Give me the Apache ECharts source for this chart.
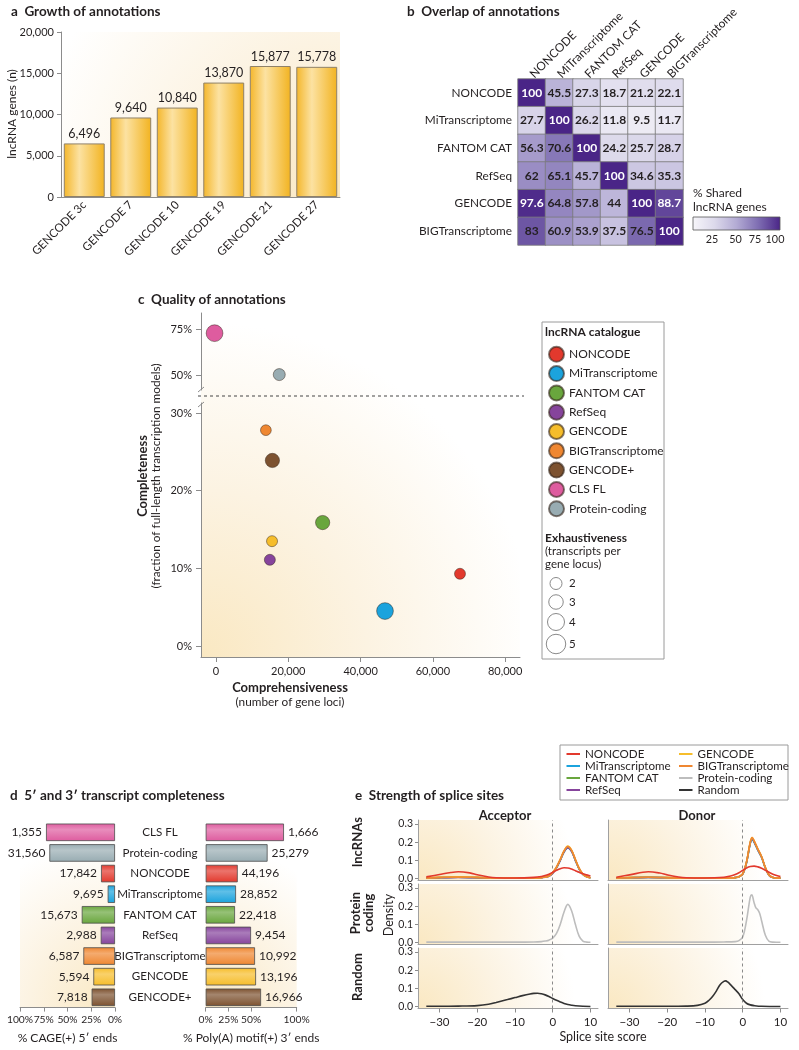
<!DOCTYPE html>
<html><head><meta charset="utf-8">
<script src="https://cdn.jsdelivr.net/npm/echarts@6/dist/echarts.min.js"></script>
<style>html,body{margin:0;padding:0;background:#fff}#c{width:799px;height:1050px}</style>
</head><body><div id="c"></div>
<script>
// ---------- DATA ----------
// a: growth of annotations
const growthCategories = ['GENCODE 3c','GENCODE 7','GENCODE 10','GENCODE 19','GENCODE 21','GENCODE 27'];
const growthValues = [6496, 9640, 10840, 13870, 15877, 15778];

// b: overlap of annotations (% shared lncRNA genes), rows x cols
const overlapNames = ['NONCODE','MiTranscriptome','FANTOM CAT','RefSeq','GENCODE','BIGTranscriptome'];
const overlapNONCODE = [100, 45.5, 27.3, 18.7, 21.2, 22.1];
const overlapMiT = [27.7, 100, 26.2, 11.8, 9.5, 11.7];
const overlapFANTOM = [56.3, 70.6, 100, 24.2, 25.7, 28.7];
const overlapRefSeq = [62, 65.1, 45.7, 100, 34.6, 35.3];
const overlapGENCODE = [97.6, 64.8, 57.8, 44, 100, 88.7];
const overlapBIG = [83, 60.9, 53.9, 37.5, 76.5, 100];
const overlapTicks = [25, 50, 75, 100];

// c: quality of annotations
const catalogueNames = ['NONCODE','MiTranscriptome','FANTOM CAT','RefSeq','GENCODE','BIGTranscriptome','GENCODE+','CLS FL','Protein-coding'];
const comprehensiveness = [67500, 46750, 29500, 14900, 15500, 13800, 15600, -400, 17500];
const completeness = [9.3, 4.5, 15.9, 11.1, 13.5, 27.8, 23.9, 73, 50.4];
const exhaustiveness = [1.6, 3.9, 2.9, 1.6, 1.6, 1.5, 2.9, 3.9, 2.0];
const exhaustivenessLegend = [2, 3, 4, 5];
const cXTicks = [0, 20000, 40000, 60000, 80000];
const cYTicksLower = [0, 10, 20, 30];
const cYTicksUpper = [50, 75];

// d: 5' and 3' completeness
const completenessCats = ['CLS FL','Protein-coding','NONCODE','MiTranscriptome','FANTOM CAT','RefSeq','BIGTranscriptome','GENCODE','GENCODE+'];
const cagePercent = [72.6, 69.1, 14.7, 7.7, 35.0, 15.0, 33.3, 22.8, 24.6];
const cageCounts = [1355, 31560, 17842, 9695, 15673, 2988, 6587, 5594, 7818];
const polyAPercent = [86.0, 68.0, 35.2, 33.3, 32.2, 49.8, 54.2, 55.3, 60.8];
const polyACounts = [1666, 25279, 44196, 28852, 22418, 9454, 10992, 13196, 16966];

// e: strength of splice sites (density curves)
const accLncX = [-33.5,-30,-25,-20,-15,-10,-5,-3,-2,-1,0,1,2,3,4,5,6,7,8,9,10];
const accMiT    = [0.002,0.005,0.007,0.005,0.002,0.002,0.003,0.005,0.008,0.013,0.030,0.058,0.100,0.145,0.168,0.150,0.100,0.052,0.022,0.009,0.004];
const accFANTOM = [0.002,0.005,0.007,0.005,0.002,0.002,0.003,0.005,0.008,0.014,0.031,0.060,0.102,0.148,0.172,0.152,0.102,0.054,0.023,0.010,0.004];
const accRefSeq = [0.002,0.004,0.006,0.004,0.002,0.002,0.003,0.004,0.007,0.012,0.028,0.058,0.100,0.147,0.170,0.150,0.100,0.052,0.022,0.009,0.004];
const accGENCODE= [0.003,0.006,0.009,0.006,0.002,0.002,0.003,0.005,0.008,0.014,0.032,0.062,0.105,0.152,0.178,0.156,0.104,0.055,0.024,0.010,0.004];
const accBIG    = [0.003,0.006,0.008,0.006,0.002,0.002,0.003,0.005,0.008,0.015,0.034,0.064,0.106,0.152,0.176,0.155,0.106,0.057,0.025,0.011,0.004];
const accNoncodeX = [-33.5,-30,-27,-25,-22,-20,-17,-15,-10,-5,-3,-2,-1,0,1,2,3,4,5,6,7,8,9,10];
const accNONCODE  = [0.009,0.022,0.033,0.037,0.031,0.021,0.008,0.004,0.003,0.006,0.011,0.016,0.024,0.034,0.045,0.054,0.059,0.058,0.052,0.043,0.034,0.026,0.020,0.014];
const donLncX = [-33.5,-30,-25,-20,-15,-10,-5,-3,-2,-1,0,1,2,2.5,3,4,5,6,7,8,9,10];
const donMiT    = [0.002,0.004,0.006,0.004,0.002,0.002,0.002,0.003,0.005,0.010,0.024,0.086,0.192,0.215,0.200,0.156,0.116,0.058,0.017,0.006,0.003,0.002];
const donFANTOM = [0.002,0.005,0.007,0.005,0.002,0.002,0.002,0.003,0.005,0.010,0.025,0.088,0.196,0.220,0.204,0.159,0.118,0.059,0.018,0.006,0.003,0.002];
const donRefSeq = [0.002,0.004,0.006,0.004,0.002,0.002,0.002,0.003,0.005,0.010,0.024,0.087,0.195,0.218,0.203,0.158,0.117,0.058,0.017,0.006,0.003,0.002];
const donGENCODE= [0.003,0.005,0.007,0.005,0.002,0.002,0.002,0.003,0.005,0.010,0.025,0.090,0.200,0.225,0.208,0.162,0.120,0.060,0.018,0.006,0.003,0.002];
const donBIG    = [0.003,0.005,0.007,0.005,0.002,0.002,0.002,0.003,0.005,0.011,0.026,0.091,0.201,0.226,0.209,0.163,0.121,0.061,0.019,0.006,0.003,0.002];
const donNoncodeX = [-33.5,-30,-25,-22,-20,-17,-15,-10,-5,-3,-2,-1,0,1,2,3,4,5,6,7,8,9,10];
const donNONCODE  = [0.007,0.020,0.037,0.030,0.020,0.008,0.004,0.003,0.007,0.015,0.022,0.032,0.045,0.058,0.066,0.068,0.064,0.056,0.045,0.034,0.024,0.016,0.011];
const accPcX = [-33.5,-20,-10,-5,-3,-2,-1,0,1,2,3,4,5,6,7,8,9,10];
const accPc  = [0.002,0.002,0.002,0.003,0.005,0.008,0.013,0.024,0.050,0.100,0.168,0.210,0.175,0.100,0.035,0.008,0.002,0.001];
const donPcX = [-33.5,-20,-10,-5,-2,-1,0,1,2,2.4,3,3.5,4,4.5,5,6,7,8,10];
const donPc  = [0.002,0.002,0.002,0.003,0.005,0.010,0.030,0.120,0.250,0.262,0.220,0.190,0.180,0.160,0.120,0.040,0.006,0.002,0.001];
const accRandX = [-33.5,-30,-25,-20,-17,-15,-12,-10,-8,-6,-5,-4,-3,-2,-1,0,1,2,3,4,5,6,8,10];
const accRand  = [0.001,0.001,0.002,0.005,0.012,0.022,0.038,0.049,0.060,0.069,0.072,0.073,0.070,0.064,0.055,0.044,0.034,0.025,0.017,0.011,0.007,0.004,0.001,0];
const donRandX = [-33.5,-20,-15,-12,-10,-9,-8,-7,-6,-5,-4.5,-4,-3,-2.3,-1,0,1,2,3,5,10];
const donRand  = [0.001,0.001,0.002,0.006,0.018,0.033,0.055,0.085,0.120,0.138,0.141,0.135,0.115,0.100,0.070,0.038,0.018,0.009,0.005,0.001,0];
const eXTicks = [-30, -20, -10, 0, 10];
const eYTicks = [0, 0.1, 0.2, 0.3];

// ---------- STYLE ----------
const FONT = 'Lato, "Open Sans", "DejaVu Sans", sans-serif';
const TXT = '#231f20';
const AX = '#8c8c8c';
const PALETTE = {
  'NONCODE':'#e2392d','MiTranscriptome':'#1ba3dd','FANTOM CAT':'#69a63d','RefSeq':'#86449c',
  'GENCODE':'#f6bd2b','BIGTranscriptome':'#ef8731','GENCODE+':'#7d5230','CLS FL':'#de5c9f',
  'Protein-coding':'#98acb2','Random':'#333333'
};
const PC_LINE = '#bdbdbd';
const HEAT = ['#f7f6fa','#dcd9eb','#b3abd4','#7e6db2','#4a2587'];
function mix(hex, t){
  const n = parseInt(hex.slice(1),16);
  let r=n>>16, g=(n>>8)&255, b=n&255;
  r=Math.round(r+(255-r)*t); g=Math.round(g+(255-g)*t); b=Math.round(b+(255-b)*t);
  return 'rgb('+r+','+g+','+b+')';
}
const sizeOf = e => 7 + 2.5*e;
const fmt = v => v.toLocaleString('en-US');
function T(text, x, y, o){
  o = o || {};
  return {type:'text', x:x, y:y, rotation:o.rot||0, z:50,
    style:{text:text, fill:o.fill||TXT, font:(o.bold?'bold ':'')+(o.size||12)+'px '+FONT,
      align:o.align||'left', verticalAlign:o.va||'middle'}};
}
function bg(x,y,w,h,cx,cy,r){
  return {type:'rect', z:-10, shape:{x:x,y:y,width:w,height:h}, silent:true,
    style:{fill:{type:'radial', x:cx, y:cy, r:r, global:false,
      colorStops:[{offset:0,color:'#fae8c2'},{offset:0.5,color:'#fcf3e2'},{offset:1,color:'#ffffff'}]}}};
}
const axLine = (color) => ({show:true, onZero:false, lineStyle:{color:color||AX}});

// ---------- GRIDS ----------
const grids = [
  {left:61, top:32, width:279, height:165},          // 0 a
  {left:518, top:79, width:165, height:166},         // 1 b
  {left:201, top:313, width:319, height:77},         // 2 c upper
  {left:201, top:403, width:319, height:254},        // 3 c lower
  {left:20, top:822, width:95, height:185.6},        // 4 d left
  {left:205.7, top:822, width:91, height:185.6}      // 5 d right
];
const eLeft = [418, 608], eTop = [820, 884, 948];
for (let r=0;r<3;r++) for (let c=0;c<2;c++) grids.push({left:eLeft[c], top:eTop[r], width:180, height:60.5});

const labelBase = {color:TXT, fontFamily:FONT, fontSize:11};
const xAxes = [], yAxes = [];
// a
xAxes.push({type:'category', gridIndex:0, data:growthCategories, axisTick:{show:false},
  axisLine:axLine(), axisLabel:Object.assign({rotate:45, margin:6, interval:0}, labelBase, {fontSize:11.5})});
yAxes.push({type:'value', gridIndex:0, min:0, max:20000, interval:5000, splitLine:{show:false},
  axisLine:axLine(), axisTick:{show:true, length:4, lineStyle:{color:AX}},
  axisLabel:Object.assign({formatter:fmt, margin:7}, labelBase)});
// b
xAxes.push({type:'category', gridIndex:1, position:'top', data:overlapNames, axisLine:{show:false}, axisTick:{show:false},
  axisLabel:Object.assign({rotate:-45, margin:3, interval:0, align:'left'}, labelBase, {fontSize:11.8})});
yAxes.push({type:'category', gridIndex:1, inverse:true, data:overlapNames, axisLine:{show:false}, axisTick:{show:false},
  axisLabel:Object.assign({margin:6}, labelBase, {fontSize:11.8})});
// c upper
xAxes.push({type:'value', gridIndex:2, min:-4150, max:84100, show:false});
yAxes.push({type:'value', gridIndex:2, min:42, max:84, splitLine:{show:false},
  axisLine:axLine(), axisTick:{show:true, length:5, customValues:cYTicksUpper, lineStyle:{color:AX}},
  axisLabel:Object.assign({customValues:cYTicksUpper, formatter:v=>v+'%', margin:9}, labelBase)});
// c lower
xAxes.push({type:'value', gridIndex:3, min:-4150, max:84100, splitLine:{show:false},
  axisLine:axLine(), axisTick:{show:true, length:5, customValues:cXTicks, lineStyle:{color:AX}},
  axisLabel:Object.assign({customValues:cXTicks, formatter:fmt, margin:9}, labelBase)});
yAxes.push({type:'value', gridIndex:3, min:-1.42, max:31.3, splitLine:{show:false},
  axisLine:axLine(), axisTick:{show:true, length:5, customValues:cYTicksLower, lineStyle:{color:AX}},
  axisLabel:Object.assign({customValues:cYTicksLower, formatter:v=>v+'%', margin:9}, labelBase)});
// d
const dTickLabel = Object.assign({formatter:v=>v+'%', margin:7, showMinLabel:true, showMaxLabel:true, hideOverlap:false}, labelBase, {fontSize:10.3});
xAxes.push({type:'value', gridIndex:4, min:0, max:100, interval:25, inverse:true, splitLine:{show:false},
  axisLine:axLine(), axisTick:{show:true, length:4, lineStyle:{color:AX}},
  axisLabel:dTickLabel,
  name:'% CAGE(+) 5\u2032 ends', nameLocation:'middle', nameGap:25, nameTextStyle:{color:TXT, fontFamily:FONT, fontSize:12}});
yAxes.push({type:'category', gridIndex:4, inverse:true, position:'right', data:completenessCats,
  axisLine:{show:false}, axisTick:{show:false}, axisLabel:Object.assign({align:'center', margin:45}, labelBase, {fontSize:11.6})});
xAxes.push({type:'value', gridIndex:5, min:0, max:100, interval:25, splitLine:{show:false},
  axisLine:axLine(), axisTick:{show:true, length:4, lineStyle:{color:AX}},
  axisLabel:dTickLabel,
  name:'% Poly(A) motif(+) 3\u2032 ends', nameLocation:'middle', nameGap:25, nameTextStyle:{color:TXT, fontFamily:FONT, fontSize:12}});
yAxes.push({type:'category', gridIndex:5, inverse:true, data:completenessCats,
  axisLine:{show:false}, axisTick:{show:false}, axisLabel:{show:false}});
// e
const minus = v => v<0 ? '\u2212'+Math.abs(v) : String(v);
for (let r=0;r<3;r++) for (let c=0;c<2;c++){
  const gi = 6 + r*2 + c;
  xAxes.push({type:'value', gridIndex:gi, min:-35.7, max:12, splitLine:{show:false},
    axisLine:axLine('#a0a0a0'),
    axisTick:{show:r===2, length:4, customValues:eXTicks, lineStyle:{color:AX}},
    axisLabel:Object.assign({show:r===2, customValues:eXTicks, formatter:minus, margin:8}, labelBase, {fontSize:11.5})});
  yAxes.push({type:'value', gridIndex:gi, min:-0.011, max:0.322, splitLine:{show:false},
    axisLine:axLine('#a0a0a0'),
    axisTick:{show:c===0, length:3, customValues:eYTicks, lineStyle:{color:AX}},
    axisLabel:Object.assign({show:c===0, customValues:eYTicks, formatter:v=>v.toFixed(1), margin:5}, labelBase, {fontSize:10.5})});
}

// ---------- SERIES ----------
const series = [];
// a bars
series.push({type:'bar', xAxisIndex:0, yAxisIndex:0, data:growthValues, barCategoryGap:'12%',
  itemStyle:{color:{type:'linear',x:0,y:0,x2:1,y2:0,colorStops:[{offset:0,color:'#f4b62a'},{offset:0.38,color:'#fce2a2'},{offset:1,color:'#f2b320'}]},
    borderColor:'#8f8169', borderWidth:1},
  label:{show:true, position:'top', distance:3, formatter:p=>fmt(p.value), color:TXT, fontFamily:FONT, fontSize:12.5}});
// b heatmap
const overlapRows = [overlapNONCODE, overlapMiT, overlapFANTOM, overlapRefSeq, overlapGENCODE, overlapBIG];
const heatData = [];
overlapRows.forEach((row,i)=>row.forEach((v,j)=>heatData.push([j,i,v])));
series.push({type:'heatmap', xAxisIndex:1, yAxisIndex:1, data:heatData,
  itemStyle:{borderColor:'#7a7a7a', borderWidth:0.8},
  label:{show:true, formatter:p=>(p.value[2]>=85?'{w|':'{d|')+p.value[2]+'}',
    rich:{w:{color:'#ffffff', fontWeight:'bold', fontSize:12, fontFamily:FONT}, d:{color:TXT, fontWeight:'bold', fontSize:12, fontFamily:FONT}}}});
// c scatter
catalogueNames.forEach((n,i)=>{
  const up = completeness[i] > 35;
  series.push({type:'scatter', name:n, xAxisIndex:up?2:3, yAxisIndex:up?2:3, z:5,
    data:[[comprehensiveness[i], completeness[i], exhaustiveness[i]]],
    symbolSize:v=>sizeOf(v[2]),
    itemStyle:{color:PALETTE[n], borderColor:'rgba(50,35,25,0.6)', borderWidth:0.8, opacity:1}});
});
// d bars
function barGrad(c){ return {type:'linear',x:0,y:0,x2:0,y2:1,colorStops:[{offset:0,color:c},{offset:0.35,color:mix(c,0.3)},{offset:1,color:c}]}; }
series.push({type:'bar', xAxisIndex:4, yAxisIndex:4, data:cagePercent, barWidth:17.5,
  itemStyle:{color:p=>barGrad(PALETTE[completenessCats[p.dataIndex]]), borderColor:'#4d4d4d', borderWidth:0.8},
  label:{show:true, position:'left', distance:4, formatter:p=>fmt(cageCounts[p.dataIndex]), color:TXT, fontFamily:FONT, fontSize:12}});
series.push({type:'bar', xAxisIndex:5, yAxisIndex:5, data:polyAPercent, barWidth:17.5,
  itemStyle:{color:p=>barGrad(PALETTE[completenessCats[p.dataIndex]]), borderColor:'#4d4d4d', borderWidth:0.8},
  label:{show:true, position:'right', distance:4, formatter:p=>fmt(polyACounts[p.dataIndex]), color:TXT, fontFamily:FONT, fontSize:12}});
// e lines
const dash = {silent:true, symbol:'none', label:{show:false}, lineStyle:{type:[3,3], color:'#8a8a8a', width:1}, data:[{xAxis:0}]};
function line(name, gi, xs, ys, color, z, mark){
  const s = {type:'line', name:name, xAxisIndex:gi, yAxisIndex:gi, data:xs.map((x,k)=>[x,ys[k]]),
    smooth:0.35, symbol:'none', showSymbol:false, silent:true, z:z,
    lineStyle:{color:color, width:1.6}, itemStyle:{color:color}};
  if (mark) s.markLine = dash;
  return s;
}
[[6, accLncX, [accMiT,accFANTOM,accRefSeq,accGENCODE,accBIG], accNoncodeX, accNONCODE],
 [7, donLncX, [donMiT,donFANTOM,donRefSeq,donGENCODE,donBIG], donNoncodeX, donNONCODE]].forEach(cfg=>{
  const [gi, xs, groups, nx, ny] = cfg;
  const names = ['MiTranscriptome','FANTOM CAT','RefSeq','GENCODE','BIGTranscriptome'];
  groups.forEach((ys,k)=>series.push(line(names[k], gi, xs, ys, PALETTE[names[k]], 3+k, k===0)));
  series.push(line('NONCODE', gi, nx, ny, PALETTE['NONCODE'], 9, false));
});
series.push(line('Protein-coding', 8, accPcX, accPc, PC_LINE, 3, true));
series.push(line('Protein-coding', 9, donPcX, donPc, PC_LINE, 3, true));
series.push(line('Random', 10, accRandX, accRand, '#333333', 3, true));
series.push(line('Random', 11, donRandX, donRand, '#333333', 3, true));

// ---------- GRAPHICS ----------
const g = [];
g.push(bg(61,32,279,165,1,1,1.9));
g.push(bg(201,313,319,344,0,1,1.05));
g.push(bg(20,822,95,186,1,1,1.8));
g.push(bg(205.7,822,91,186,0,1,1.8));
for (let r=0;r<3;r++) for (let c=0;c<2;c++) g.push(bg(eLeft[c], eTop[r], 180, 60.5, 0, 1, 2.6));
// titles
g.push(T('a  Growth of annotations', 11, 12, {bold:true, size:13.5}));
g.push(T('b  Overlap of annotations', 407, 12, {bold:true, size:13.5}));
g.push(T('c  Quality of annotations', 138, 300, {bold:true, size:13.5}));
g.push(T('d  5\u2032 and 3\u2032 transcript completeness', 10, 796, {bold:true, size:13.5}));
g.push(T('e  Strength of splice sites', 355, 796, {bold:true, size:13.5}));
// a y name
g.push(T('lncRNA genes (n)', 12, 114, {rot:Math.PI/2, align:'center', size:12}));
// b colour bar
g.push({type:'rect', z:20, shape:{x:693,y:217,width:87,height:13}, style:{stroke:'#555', lineWidth:0.8,
  fill:{type:'linear',x:0,y:0,x2:1,y2:0,colorStops:HEAT.map((c,k)=>({offset:k/(HEAT.length-1), color:c}))}}});
const barPos = [712, 735.5, 755, 775];
overlapTicks.forEach((t,k)=>g.push(T(String(t), barPos[k], 239.5, {align:'center', size:10.8})));
g.push(T('% Shared', 693, 193.5, {size:12}));
g.push(T('lncRNA genes', 693, 207, {size:12}));
// c decorations
g.push({type:'line', z:20, shape:{x1:198,y1:396,x2:524,y2:396}, style:{stroke:'#444', lineWidth:1, lineDash:[3,3]}});
g.push({type:'line', z:20, shape:{x1:198,y1:392,x2:204,y2:387}, style:{stroke:AX, lineWidth:1}});
g.push({type:'line', z:20, shape:{x1:198,y1:407,x2:204,y2:402}, style:{stroke:AX, lineWidth:1}});
g.push(T('Completeness', 143, 476, {rot:Math.PI/2, align:'center', bold:true, size:13}));
g.push(T('(fraction of full-length transcription models)', 156, 476, {rot:Math.PI/2, align:'center', size:11.8}));
g.push(T('Comprehensiveness', 290, 688, {align:'center', bold:true, size:13}));
g.push(T('(number of gene loci)', 290, 702, {align:'center', size:11.8}));
g.push({type:'rect', z:20, shape:{x:542,y:322,width:122,height:337}, style:{stroke:'#9a9a9a', lineWidth:1, fill:'none'}});
g.push(T('lncRNA catalogue', 545, 332.5, {bold:true, size:12}));
g.push(T('Exhaustiveness', 545, 538.5, {bold:true, size:12}));
g.push(T('(transcripts per', 545, 551.5, {size:11.5}));
g.push(T('gene locus)', 545, 564.5, {size:11.5}));
const exY = [583.5, 602, 622, 644];
exhaustivenessLegend.forEach((e,k)=>{
  g.push({type:'circle', z:20, shape:{cx:556, cy:exY[k], r:sizeOf(e)/2}, style:{fill:'#fff', stroke:'#8a8a8a', lineWidth:1}});
  g.push(T(String(e), 569, exY[k], {size:11.5}));
});
// e decorations
g.push({type:'rect', z:20, shape:{x:560,y:745,width:228,height:55}, style:{stroke:'#9a9a9a', lineWidth:1, fill:'#fff'}});
g.push(T('Acceptor', 505, 816, {align:'center', bold:true, size:13}));
g.push(T('Donor', 697, 816, {align:'center', bold:true, size:13}));
g.push(T('lncRNAs', 358, 842, {rot:Math.PI/2, align:'center', bold:true, size:13}));
g.push(T('Protein', 356, 913, {rot:Math.PI/2, align:'center', bold:true, size:13}));
g.push(T('coding', 369, 913, {rot:Math.PI/2, align:'center', bold:true, size:13}));
g.push(T('Random', 358, 977, {rot:Math.PI/2, align:'center', bold:true, size:13}));
g.push(T('Density', 389, 915, {rot:Math.PI/2, align:'center', size:12.5}));
g.push(T('Splice site score', 603, 1037, {align:'center', size:12.5}));

// ---------- LEGENDS ----------
const legends = [
  {data:catalogueNames, orient:'vertical', left:548, top:345.8, itemWidth:15, itemHeight:15, itemGap:2.3,
   icon:'circle', padding:0, selectedMode:false, textStyle:{color:TXT, fontFamily:FONT, fontSize:12, lineHeight:15}, z:30},
  {data:['NONCODE','MiTranscriptome','FANTOM CAT','RefSeq'], orient:'vertical', left:566.5, top:748,
   itemWidth:13.5, itemHeight:2, itemGap:0, icon:'rect', padding:0, selectedMode:false,
   itemStyle:{borderWidth:0}, textStyle:{color:TXT, fontFamily:FONT, fontSize:11.6, lineHeight:11}, z:30},
  {data:['GENCODE','BIGTranscriptome',{name:'Protein-coding', itemStyle:{color:PC_LINE}},{name:'Random', itemStyle:{color:'#333333'}}],
   orient:'vertical', left:679, top:748, itemWidth:13.5, itemHeight:2, itemGap:0, icon:'rect', padding:0, selectedMode:false,
   itemStyle:{borderWidth:0}, textStyle:{color:TXT, fontFamily:FONT, fontSize:11.6, lineHeight:11}, z:30}
];

const chart = echarts.init(document.getElementById('c'), null, {renderer:'canvas'});
chart.setOption({
  animation:false,
  backgroundColor:'#ffffff',
  textStyle:{fontFamily:FONT, color:TXT},
  grid:grids, xAxis:xAxes, yAxis:yAxes,
  visualMap:{type:'continuous', show:false, min:0, max:100, dimension:2, seriesIndex:1, inRange:{color:HEAT}},
  legend:legends,
  graphic:g,
  series:series
});
</script></body></html>
